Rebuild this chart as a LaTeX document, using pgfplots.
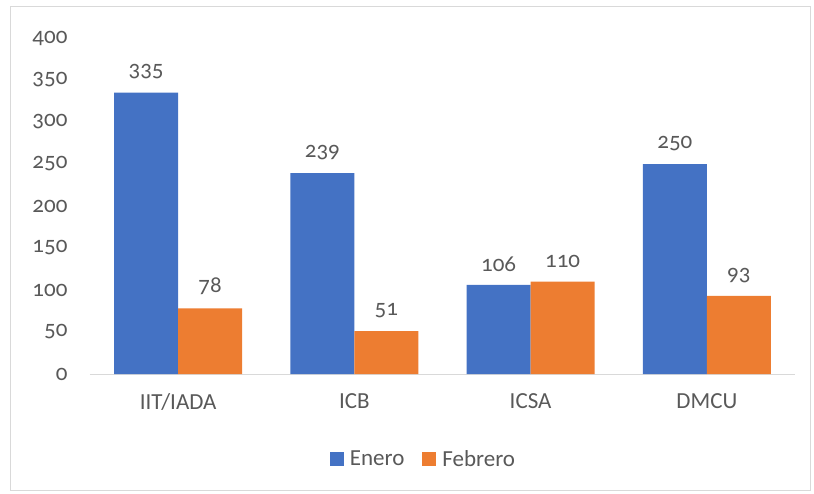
\documentclass[border=0pt]{standalone}
\usepackage{pgfplots}
\pgfplotsset{compat=1.18}
\usepackage{fontspec}
\setmainfont[Numbers=OldStyle]{Carlito}
\definecolor{enero}{HTML}{4472C4}
\definecolor{febrero}{HTML}{ED7D31}
\definecolor{txt}{HTML}{595959}
\definecolor{frame}{HTML}{D9D9D9}
\begin{document}
\begin{tikzpicture}[x=1pt,y=1pt]
\begin{axis}[
    at={(0,0)}, anchor=south west,
    scale only axis,
    width=705pt, height=336pt,
    ybar=0pt, bar width=64pt,
    xmin=-0.5, xmax=3.5,
    ymin=0, ymax=400,
    ytick={0,50,...,400},
    xtick=data,
    xticklabels={IIT/IADA,ICB,ICSA,DMCU},
    axis line style={draw=none},
    axis x line*=bottom,
    axis y line=left,
    y axis line style={draw=none},
    x axis line style={draw=frame, line width=1pt},
    major tick length=0pt,
    tick label style={font=\fontsize{23}{26}\selectfont, text=txt},
    yticklabel style={xshift=-19pt},
    xticklabel style={yshift=-16pt},
    /pgf/number format/assume math mode=true,
    nodes near coords,
    every node near coord/.append style={font=\fontsize{23}{26}\selectfont, text=txt, yshift=10pt},
    legend style={at={(0.473,-0.253)}, anchor=center, draw=none, legend columns=-1,
        font=\fontsize{23}{26}\selectfont, text=txt,
        /tikz/every odd column/.append style={column sep=4pt},
        /tikz/every even column/.append style={column sep=16pt}},
    legend image code/.code={\fill[#1] (0pt,-7pt) rectangle (14pt,7pt);},
]
\addplot[fill=enero, draw=none] coordinates {(0,335) (1,239) (2,106) (3,250)};
\addplot[fill=febrero, draw=none] coordinates {(0,78) (1,51) (2,110) (3,93)};
\legend{Enero,Febrero}
\end{axis}
\draw[frame, line width=1pt] (-79,-116) rectangle (720,367);
\path (-90,-119) rectangle (724,374);
\end{tikzpicture}
\end{document}
